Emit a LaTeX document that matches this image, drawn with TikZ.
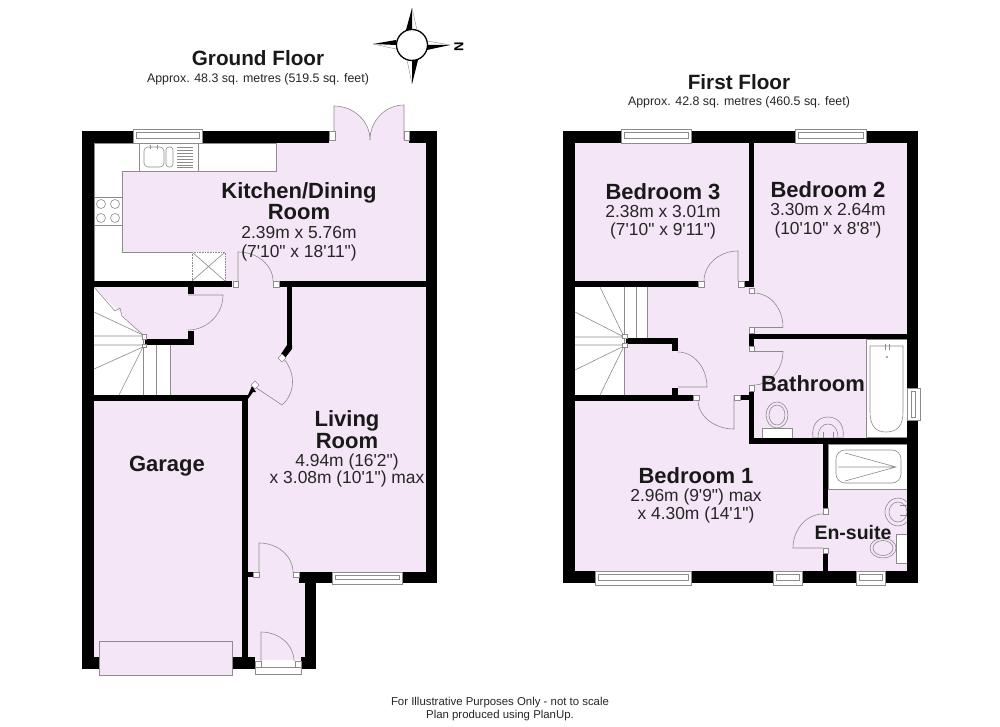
\documentclass[tikz,border=0pt]{standalone}
\usepackage{fontspec}
\setmainfont{Liberation Sans}
\newfontfamily\plainfont{Liberation Sans}
\usetikzlibrary{calc}
\definecolor{roompink}{HTML}{F4E6F6}
\definecolor{fixline}{HTML}{8C8C8C}
\tikzset{
  fixture/.style={draw=fixline,line width=0.6pt},
  wallfill/.style={fill=black},
  roomname/.style={anchor=base,font=\fontsize{22}{24}\selectfont\bfseries,inner sep=0pt,text=black!90},
  roomdim/.style={anchor=base,font=\plainfont\fontsize{17.4}{20}\selectfont,inner sep=0pt,text=black!85},
  floortitle/.style={anchor=base,font=\fontsize{20.7}{23}\selectfont\bfseries,inner sep=0pt,text=black!90},
  floorsub/.style={anchor=base,font=\fontsize{12.4}{15}\selectfont,inner sep=0pt,text=black!85},
  footer/.style={anchor=base,font=\fontsize{11.4}{13}\selectfont,inner sep=0pt,text=black!85}
}
\newcommand{\wall}[2]{\fill[wallfill] (#1) rectangle (#2);}
\newcommand{\jamb}[2]{\filldraw[fill=white,fixture] (#1) rectangle (#2);}
\newcommand{\doorleaf}[4]{\draw[fixture] (#1) -- (#2) .. controls ($(#2)!.55!(#3)$) and ($(#4)!.55!(#3)$) .. (#4);}
\newcommand{\hwin}[4]{\filldraw[fill=white,fixture] (#1,#2) rectangle (#3,#4);
  \draw[fixture] ({#1+3},{#2+3.5}) rectangle ({#3-3},{#4-5});}
\newcommand{\vwin}[4]{\filldraw[fill=white,fixture] (#1,#2) rectangle (#3,#4);
  \draw[fixture] ({#1+4},{#2+3}) rectangle ({#3-5},{#4-3});}
\begin{document}
\begin{tikzpicture}[x=1pt,y=-1pt]
\useasboundingbox (0,0) rectangle (1000,727);
\fill[white] (0,0) rectangle (1000,727);

% ---------- GROUND FLOOR: floors
\fill[roompink] (94,143) rectangle (426,572);
\fill[roompink] (248,572) rectangle (305,660);
\fill[roompink] (94,401) rectangle (242,657);
\fill[roompink] (329,131) rectangle (409,143);
\fill[roompink] (334,106) .. controls (354,106) and (370,122) .. (370,140) .. controls (370,122) and (385,106) .. (404,105) -- (404,143) -- (334,143) -- cycle;
\fill[roompink] (259,543) .. controls (278,544) and (293,558) .. (293,575) -- (259,575) -- cycle;

% kitchen fittings
\filldraw[fill=white,fixture] (94,143) -- (276,143) -- (276,171) -- (122,171) -- (122,252) -- (192,252) -- (192,281) -- (94,281) -- cycle;
\draw[fixture] (139,143) rectangle (198,171);
\draw[fixture,rounded corners=4pt] (144,147) rectangle (164,167);
\draw[fixture,rounded corners=3pt] (166,147) rectangle (173,167);
\foreach \yy in {147,150,153,156,159,162,165,167}{\draw[fixture] (177,\yy) -- (193,\yy);}
\draw[fixture] (150,145) -- (150,149) (157,145) -- (157,149);
\draw[fixture] (94,197) -- (122,197) (94,225) -- (122,225);
\foreach \cx in {101,115}{\foreach \cy in {204,218}{\draw[fixture] (\cx,\cy) circle (4.5);}}
\draw[fixture,densely dotted,fill=white] (192,252) rectangle (225,281);
\draw[fixture] (192,252) -- (225,281) (225,252) -- (192,281);

% stairs
\fill[white] (94,287) -- (142,335) -- (143,345) -- (170,345) -- (170,395) -- (94,395) -- cycle;
\draw[fixture] (94,287) -- (115,311) -- (120,308) -- (122,316) -- (143,335);
\draw[fixture] (94,312) -- (143,335) (94,336) -- (143,336) (94,345) -- (143,345) (94,369) -- (143,347) (119,395) -- (143,347);
\draw[fixture] (143,335) -- (143,395) (156,345) -- (156,395) (170,342) -- (170,395) (157,342) -- (170,342);

% ground walls
\wall{82,131}{133,143}\wall{202,131}{329,143}\wall{409,131}{437,143}
\wall{82,131}{94,669}\wall{426,131}{437,583}
\wall{94,281}{232,287}\wall{279,281}{426,287}
\wall{94,395}{248,401}\wall{242,395}{248,577}\wall{242,572}{253,577}\wall{242,577}{248,669}
\wall{82,657}{99,669}\wall{232,657}{255,669}\wall{301,657}{316,669}
\wall{305,572}{316,669}\wall{299,572}{332,583}\wall{402,572}{437,583}
\wall{188,287}{194,294}\wall{188,331}{194,345}\wall{145,339}{194,345}
\wall{287,287}{292,347}
\fill[wallfill] (287,345) -- (292,345) -- (292,349) -- (285,358) -- (281,354) -- cycle;
\fill[wallfill] (248,395) -- (248,399) -- (253,392) -- (256,392) -- (252,386) -- cycle;

% ground doors and windows
\doorleaf{238,281}{238,252}{273,252}{273,281}
\doorleaf{188,295}{223,295}{223,330}{188,330}
\doorleaf{259,577}{259,543}{293,543}{293,572}
\doorleaf{261,667}{261,632}{294,632}{294,661}
\doorleaf{334,140}{334,106}{370,106}{370,140}
\doorleaf{404,140}{404,105}{370,105}{370,140}
\fill[roompink] (258,390) -- (282,405) .. controls (296,393) and (296,371) .. (282,357) -- (270,370) -- cycle;
\draw[fixture] (255,387) -- (282,405) .. controls (296,393) and (296,371) .. (282,357);
\jamb{233,281}{238,287}\jamb{273,281}{279,287}
\jamb{329,131}{335,140}\jamb{404,131}{409,140}
\jamb{253,572}{259,577}\jamb{293,572}{299,577}
\jamb{255,661}{261,667}\jamb{295,661}{301,667}
\jamb{142,334}{146,339}\jamb{142,344}{146,347}
\filldraw[fill=white,fixture] (282,354) -- (286,358) -- (282,362) -- (278,358) -- cycle;
\filldraw[fill=white,fixture] (255,381) -- (259,385) -- (255,389) -- (251,385) -- cycle;
\hwin{133}{129}{202}{143}
\hwin{332}{572}{402}{584}
\filldraw[fill=white,fixture] (255,667) rectangle (301,674);
\filldraw[fill=roompink,fixture] (99,641) rectangle (232,675);

% ---------- FIRST FLOOR: floors
\fill[roompink] (575,143) rectangle (907,571);
\fill[white] (575,287) rectangle (624,395);
\fill[white] (624,287) rectangle (647,338);
\draw[fixture] (600,287) -- (624,337) (575,312) -- (624,337) (575,337) -- (624,337) (575,345) -- (624,345) (575,370) -- (624,346) (600,395) -- (624,346);
\draw[fixture] (624,287) -- (624,395) (636,287) -- (636,338) (647,287) -- (647,338);

% bathroom fittings
\filldraw[fill=white,fixture] (866,339) rectangle (907,437);
\filldraw[fill=white,fixture] (870,346) -- (903,346) -- (903,412) .. controls (903,426) and (897,432) .. (886,432) .. controls (876,432) and (870,426) .. (870,412) -- cycle;
\draw[fixture] (885,344) -- (885,350) (889,344) -- (889,350);
\draw[fixture] (887,357) circle (0.8);
\filldraw[fill=white,fixture] (762,428) rectangle (792,438);
\filldraw[fill=roompink,fixture] (777,415) ellipse (11 and 13);
\draw[fixture] (777,415) ellipse (8 and 10);
\draw[fixture,fill=roompink] (813,438) .. controls (811,425) and (818,417) .. (828,417) .. controls (838,417) and (845,425) .. (843,438) -- cycle;
\draw[fixture] (818,438) .. controls (818,428) and (823,424) .. (828,424) .. controls (833,424) and (838,428) .. (838,438);
\draw[fixture] (823,432) -- (823,438) (833,432) -- (833,438);

% en-suite fittings
\filldraw[fill=white,fixture] (828,444) rectangle (907,489);
\draw[fixture,rounded corners=9pt] (836,450) rectangle (901,483);
\draw[fixture] (845,453) -- (896,467) -- (845,481) (838,467) -- (896,467);
\begin{scope}
\clip (880,490) rectangle (907,530);
\draw[fixture] (898,512) ellipse (13 and 14);
\draw[fixture] (898,512) ellipse (9 and 10);
\draw[fixture] (900,505) -- (907,505) (900,515) -- (907,515);
\end{scope}
\filldraw[fill=white,fixture] (896,534) rectangle (907,563);
\filldraw[fill=roompink,fixture] (883,548) ellipse (13 and 10);
\draw[fixture] (883,548) ellipse (10 and 7.5);

% first walls
\wall{563,131}{621,143}\wall{691,131}{795,143}\wall{866,131}{918,143}
\wall{563,131}{575,583}\wall{907,131}{918,388}\wall{907,420}{918,583}
\wall{563,571}{595,583}\wall{691,571}{773,583}\wall{802,571}{856,583}\wall{885,571}{918,583}
\wall{749,143}{754,287}\wall{575,281}{698,287}\wall{744,281}{754,287}
\wall{749,334}{907,339}\wall{749,333}{754,346}
\wall{749,392}{754,444}\wall{749,438}{907,444}\wall{740,395}{749,400}
\wall{575,395}{693,401}\wall{672,388}{678,395}\wall{672,338}{678,351}\wall{626,338}{678,344}
\wall{823,444}{828,508}\wall{823,553}{828,571}

% first doors
\doorleaf{738,281}{738,251}{704,251}{704,281}
\doorleaf{754,293}{754,293}{783,293}{783,327}
\draw[fixture] (783,327) -- (754,327);
\doorleaf{754,385}{754,385}{783,385}{783,351}
\draw[fixture] (783,351) -- (754,351);
\doorleaf{734,395}{734,429}{698,429}{698,400}
\doorleaf{678,387}{707,387}{707,352}{678,352}
\doorleaf{823,548}{793,548}{793,514}{823,514}
\jamb{698,281}{704,287}\jamb{738,281}{744,287}
\jamb{749,288}{754,293}\jamb{749,327}{754,333}
\jamb{749,346}{754,351}\jamb{749,385}{754,391}
\jamb{693,395}{699,400}\jamb{734,395}{740,400}
\jamb{823,508}{828,514}\jamb{823,548}{828,553}
\jamb{622,334}{627,338}\jamb{622,343}{627,347}
\hwin{621}{129}{691}{143}
\hwin{795}{129}{866}{143}
\hwin{595}{571}{691}{585}
\hwin{773}{571}{802}{585}
\hwin{856}{571}{885}{585}
\vwin{907}{388}{920}{420}

% compass
\draw[black,line width=1.3pt,fill=white] (412,45) circle (15.5);
\fill[black] (412,8) -- (406,30) -- (412,30) -- cycle;
\draw[fixline] (412,8) -- (417,30);
\fill[black] (412,84) -- (418,60) -- (412,60) -- cycle;
\draw[fixline] (412,84) -- (407,60);
\fill[black] (373,44) -- (396,40) -- (396,45) -- cycle;
\draw[fixline] (373,44) -- (396,49);
\fill[black] (450,45) -- (427,50) -- (427,45) -- cycle;
\draw[fixline] (450,45) -- (427,41);
\node[rotate=90,inner sep=0pt,font=\fontsize{13}{15}\selectfont\bfseries] (north) at (459,47) {N};

% text
\node[floortitle] (gf) at (258,66) {Ground Floor};
\node[floorsub] (gfa) at (258,83) {Approx. 48.3 sq. metres (519.5 sq. feet)};
\node[floortitle] (ff) at (739,90) {First Floor};
\node[floorsub] (ffa) at (739,106) {Approx. 42.8 sq. metres (460.5 sq. feet)};

\node[roomname] (kit1) at (299,199) {Kitchen/Dining};
\node[roomname] (kit2) at (299,220) {Room};
\node[roomdim] (kit3) at (299,239) {2.39m x 5.76m};
\node[roomdim] (kit4) at (299,257) {(7'10" x 18'11")};
\node[roomname] (liv1) at (347,426) {Living};
\node[roomname] (liv2) at (347,448) {Room};
\node[roomdim] (liv3) at (347,466) {4.94m (16'2")};
\node[roomdim] (liv4) at (347,483) {x 3.08m (10'1") max};
\node[roomname] (gar) at (167,471) {Garage};
\node[roomname] (b31) at (663,200) {Bedroom 3};
\node[roomdim] (b32) at (663,218) {2.38m x 3.01m};
\node[roomdim] (b33) at (663,236) {(7'10" x 9'11")};
\node[roomname] (b21) at (828,198) {Bedroom 2};
\node[roomdim] (b22) at (828,215) {3.30m x 2.64m};
\node[roomdim] (b23) at (828,234) {(10'10" x 8'8")};
\node[roomname] (bath) at (813,391) {Bathroom};
\node[roomname] (b11) at (696,483) {Bedroom 1};
\node[roomdim] (b12) at (696,501) {2.96m (9'9") max};
\node[roomdim] (b13) at (696,519) {x 4.30m (14'1")};
\node[roomname,font=\fontsize{19.5}{22}\selectfont\bfseries] (ens) at (853,539) {En-suite};
\node[footer] (f1) at (500,705) {For Illustrative Purposes Only - not to scale};
\node[footer] (f2) at (500,718) {Plan produced using PlanUp.};
\end{tikzpicture}
\end{document}
